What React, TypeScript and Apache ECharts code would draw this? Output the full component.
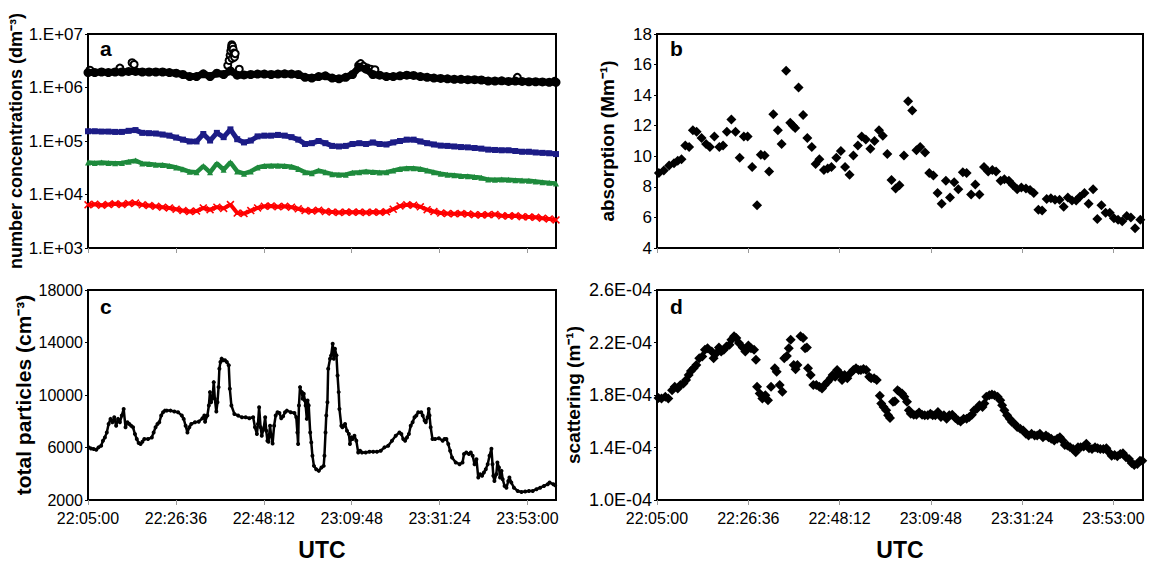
import { useEffect, useRef } from 'react';
import * as echarts from 'echarts';

const FONT = '"Liberation Sans", Arial, Helvetica, sans-serif';

// x axis: seconds after 22:05:00, axis ends at 24:00:00
const T_MAX = 6900;
const T_INTERVAL = 1296; // 21:36
const X_TICKS = [0, 1296, 2592, 3888, 5184, 6480];

// ---------- panel a (number concentrations, dm^-3), sampled every 100 s ----------
const A_STEP = 100;
const A_TOTAL = [
  1.9e6, 1.9e6, 1.95e6, 1.9e6, 1.95e6, 1.95e6, 2.0e6, 2.0e6, 1.95e6, 1.95e6,
  1.95e6, 1.95e6, 1.9e6, 1.85e6, 1.75e6, 1.6e6, 1.6e6, 1.8e6, 1.6e6, 1.85e6,
  1.75e6, 2.05e6, 1.7e6, 1.72e6, 1.75e6, 1.78e6, 1.78e6, 1.75e6, 1.78e6, 1.8e6,
  1.78e6, 1.75e6, 1.55e6, 1.5e6, 1.6e6, 1.65e6, 1.5e6, 1.45e6, 1.55e6, 1.75e6,
  2.4e6, 2.2e6, 1.75e6, 1.7e6, 1.6e6, 1.6e6, 1.65e6, 1.7e6, 1.68e6, 1.6e6,
  1.55e6, 1.5e6, 1.48e6, 1.45e6, 1.42e6, 1.42e6, 1.4e6, 1.4e6, 1.38e6, 1.32e6,
  1.32e6, 1.33e6, 1.3e6, 1.32e6, 1.3e6, 1.28e6, 1.28e6, 1.27e6, 1.25e6, 1.25e6,
];
const A_TOTAL_OUT_T = [28, 470, 650, 680, 2060, 2080, 2095, 2105, 2115, 2120, 2125, 2130, 2140, 2150, 2160, 2170, 2230, 3990, 4020, 4060, 4120, 4170, 4230, 6330, 6880];
const A_TOTAL_OUT_V = [2.1e6, 2.3e6, 2.9e6, 2.7e6, 2.6e6, 3.2e6, 4.0e6, 4.8e6, 5.6e6, 6.3e6, 3.5e6, 5.9e6, 5.2e6, 4.4e6, 3.7e6, 4.3e6, 2.2e6, 2.6e6, 2.8e6, 2.5e6, 2.3e6, 2.2e6, 2.15e6, 1.55e6, 1.3e6];
const A_BLUE = [
  1.52e5, 1.52e5, 1.5e5, 1.5e5, 1.48e5, 1.48e5, 1.55e5, 1.6e5, 1.42e5, 1.4e5,
  1.38e5, 1.32e5, 1.26e5, 1.16e5, 1.06e5, 9.8e4, 9.8e4, 1.35e5, 1.02e5, 1.42e5,
  1.18e5, 1.65e5, 1.08e5, 9.4e4, 1.02e5, 1.22e5, 1.26e5, 1.26e5, 1.3e5, 1.26e5,
  1.18e5, 1.06e5, 8.8e4, 9.1e4, 1.0e5, 9.1e4, 8.1e4, 7.9e4, 8.1e4, 8.8e4,
  9.1e4, 8.8e4, 9.4e4, 8.8e4, 8.6e4, 9.4e4, 1.0e5, 1.06e5, 1.06e5, 9.8e4,
  9.1e4, 8.6e4, 8.2e4, 8.1e4, 7.9e4, 7.7e4, 7.6e4, 7.4e4, 7.2e4, 6.9e4,
  6.8e4, 6.7e4, 6.7e4, 6.5e4, 6.3e4, 6.3e4, 6.1e4, 6.0e4, 5.9e4, 5.7e4,
];
const A_GREEN = [
  3.95e4, 3.9e4, 3.95e4, 3.9e4, 3.85e4, 3.9e4, 4.1e4, 4.3e4, 3.8e4, 3.7e4,
  3.6e4, 3.55e4, 3.4e4, 3.2e4, 2.95e4, 2.65e4, 2.6e4, 3.4e4, 2.6e4, 3.8e4,
  2.9e4, 4.0e4, 2.7e4, 2.45e4, 2.7e4, 3.2e4, 3.4e4, 3.45e4, 3.45e4, 3.4e4,
  3.3e4, 3.0e4, 2.6e4, 2.5e4, 2.8e4, 2.6e4, 2.4e4, 2.35e4, 2.35e4, 2.55e4,
  2.6e4, 2.68e4, 2.62e4, 2.58e4, 2.6e4, 2.8e4, 3.0e4, 3.1e4, 3.1e4, 3.0e4,
  2.8e4, 2.6e4, 2.45e4, 2.35e4, 2.3e4, 2.22e4, 2.2e4, 2.12e4, 2.05e4, 1.9e4,
  1.88e4, 1.9e4, 1.88e4, 1.85e4, 1.82e4, 1.8e4, 1.75e4, 1.7e4, 1.65e4, 1.6e4,
];
const A_RED = [
  6.4e3, 6.6e3, 6.3e3, 6.5e3, 6.7e3, 6.5e3, 6.8e3, 6.9e3, 6.4e3, 6.2e3,
  6.0e3, 5.8e3, 5.6e3, 5.3e3, 5.0e3, 4.8e3, 4.9e3, 5.6e3, 5.2e3, 5.8e3,
  5.5e3, 6.5e3, 4.5e3, 4.4e3, 5.0e3, 5.6e3, 6.0e3, 6.1e3, 5.9e3, 6.0e3,
  5.8e3, 5.4e3, 5.0e3, 4.9e3, 5.1e3, 4.8e3, 4.7e3, 4.6e3, 4.7e3, 4.65e3,
  4.7e3, 4.6e3, 4.7e3, 4.65e3, 4.75e3, 5.3e3, 6.1e3, 6.4e3, 6.3e3, 5.9e3,
  5.2e3, 4.8e3, 4.5e3, 4.4e3, 4.35e3, 4.4e3, 4.3e3, 4.2e3, 4.15e3, 4.2e3,
  4.25e3, 4.0e3, 3.95e3, 4.0e3, 3.85e3, 3.8e3, 3.75e3, 3.6e3, 3.5e3, 3.35e3,
];

// ---------- panel b (absorption, Mm^-1) ----------
const B_T = [
  27, 97, 172, 241, 295, 348, 402, 456, 509, 563, 633, 697, 751, 815, 885, 938, 992, 1056, 1115, 1174,
  1233, 1287, 1351, 1421, 1474, 1528, 1592, 1651, 1716, 1769, 1833, 1892, 1930, 1962, 2010, 2075, 2134, 2198, 2252, 2305,
  2370, 2423, 2477, 2546, 2611, 2670, 2734, 2788, 2852, 2906, 2965, 3029, 3088, 3152, 3206, 3270, 3329, 3388, 3442, 3506,
  3565, 3624, 3683, 3737, 3806, 3865, 3924, 3983, 4042, 4101, 4160, 4219, 4278, 4342, 4396, 4460, 4519, 4578, 4643, 4702,
  4761, 4814, 4879, 4932, 4996, 5055, 5114, 5173, 5238, 5297, 5350, 5415, 5468, 5533, 5592, 5651, 5715, 5774, 5833, 5892,
  5951, 6004, 6069, 6128, 6192, 6251, 6310, 6369, 6428, 6487, 6546, 6605, 6669, 6728, 6787, 6862,
];
const B_V = [
  8.9, 9.07, 9.4, 9.55, 9.7, 9.8, 10.7, 10.6, 11.7, 11.6, 11.2, 10.8, 10.6, 11.3, 10.6, 10.7, 11.6, 12.4, 11.6, 9.9,
  11.3, 11.3, 9.3, 6.8, 10.1, 10.05, 9.0, 12.75, 11.7, 10.8, 15.6, 12.2, 12.0, 11.85, 14.5, 12.7, 11.2, 10.6, 9.5, 9.8,
  9.1, 9.2, 9.3, 9.9, 10.35, 9.3, 8.8, 10.05, 10.7, 11.3, 11.1, 10.5, 11.0, 11.7, 11.35, 10.15, 8.45, 7.9, 8.1, 10.05,
  13.6, 13.0, 10.4, 10.6, 10.25, 8.9, 8.75, 7.6, 6.9, 8.4, 7.3, 8.3, 7.85, 8.95, 8.9, 7.5, 8.15, 7.5, 9.3, 9.0,
  9.1, 9.0, 8.4, 8.5, 8.4, 8.1, 7.85, 7.95, 7.9, 7.8, 7.6, 6.5, 6.45, 7.2, 7.25, 7.15, 7.15, 6.7, 7.3, 7.1,
  7.1, 7.35, 7.6, 6.9, 7.85, 5.9, 6.8, 6.3, 6.3, 5.95, 5.85, 5.75, 6.1, 6.0, 5.3, 5.85,
];

// ---------- panel c (total particles, cm^-3) ----------
const C_T = [
  11, 44, 83, 122, 155, 194, 221, 249, 277, 304, 332, 360, 387, 415, 443, 470, 498, 526, 553, 581,
  609, 636, 664, 692, 719, 747, 775, 802, 830, 885, 941, 968, 996, 1024, 1051, 1079, 1107, 1134, 1162, 1217,
  1273, 1328, 1383, 1411, 1439, 1466, 1494, 1522, 1577, 1632, 1688, 1715, 1726, 1760, 1782, 1798, 1815, 1837, 1854, 1870,
  1892, 1909, 1925, 1937, 1953, 1970, 1992, 2020, 2047, 2075, 2091, 2114, 2158, 2213, 2269, 2324, 2379, 2435, 2462, 2490,
  2506, 2523, 2545, 2562, 2589, 2612, 2628, 2645, 2661, 2684, 2700, 2722, 2744, 2767, 2794, 2822, 2849, 2877, 2905, 2932,
  2988, 3043, 3071, 3087, 3098, 3110, 3126, 3143, 3154, 3165, 3181, 3198, 3209, 3226, 3237, 3254, 3276, 3292, 3309, 3331,
  3364, 3403, 3442, 3475, 3486, 3502, 3513, 3530, 3541, 3569, 3585, 3608, 3624, 3641, 3663, 3679, 3696, 3707, 3735, 3751,
  3774, 3790, 3818, 3846, 3862, 3884, 3901, 3928, 3956, 3984, 4011, 4039, 4094, 4150, 4205, 4260, 4316, 4371, 4426, 4482,
  4537, 4592, 4620, 4648, 4675, 4703, 4731, 4758, 4786, 4814, 4841, 4869, 4913, 4935, 4963, 4980, 5007, 5024, 5035, 5052,
  5079, 5118, 5173, 5229, 5256, 5284, 5312, 5339, 5367, 5422, 5478, 5522, 5544, 5577, 5616, 5644, 5671, 5699, 5727, 5754,
  5782, 5810, 5837, 5865, 5893, 5920, 5948, 5964, 5976, 5992, 6020, 6036, 6059, 6075, 6097, 6114, 6142, 6169, 6197, 6213,
  6241, 6280, 6335, 6391, 6446, 6501, 6557, 6612, 6667, 6723, 6778, 6806, 6861, 6888,
];
const C_V = [
  6010, 5930, 5880, 5830, 6010, 6130, 6520, 6770, 7150, 7790, 8180, 7920, 8300, 7660, 8180, 7920, 8430, 8940, 7540, 7920,
  7790, 7660, 7540, 7030, 6640, 6340, 6260, 6440, 6640, 6640, 6770, 7150, 7540, 7790, 7920, 8430, 8690, 8810, 8810, 8810,
  8740, 8690, 8430, 8180, 7660, 7150, 7540, 7790, 7920, 7970, 8230, 8430, 7970, 8430, 9200, 10220, 9450, 9830, 10980, 9710,
  8740, 9450, 10600, 12000, 12510, 12770, 12640, 12640, 12510, 12260, 10470, 9200, 8560, 8430, 8300, 8300, 8230, 8300, 7540, 7030,
  7790, 9070, 7540, 6900, 7410, 8300, 7280, 6520, 6440, 7660, 6900, 6310, 7660, 8430, 8690, 8630, 8230, 8380, 8690, 8810,
  8690, 8630, 8300, 7150, 6260, 9200, 10600, 10220, 10220, 9710, 10090, 9580, 9200, 8180, 9580, 9200, 7150, 6390, 5370, 4600,
  4350, 4220, 4470, 4600, 5370, 7150, 8430, 9450, 12000, 12770, 13020, 13900, 12770, 13530, 13020, 11490, 10220, 8940, 7660, 7540,
  7660, 7790, 7280, 7030, 6260, 6770, 6640, 6900, 6520, 5620, 5750, 5620, 5620, 5670, 5670, 5670, 5750, 6010, 6130, 6520,
  6900, 7150, 7030, 6640, 6520, 6770, 7030, 7660, 7920, 8300, 8430, 8690, 8690, 8430, 8050, 7920, 8300, 8940, 8430, 7540,
  6640, 6640, 6700, 6520, 6640, 6640, 6260, 5750, 5240, 4860, 4730, 4860, 5500, 5620, 5500, 5620, 5370, 4730, 5110, 3710,
  3960, 3840, 4090, 4350, 4730, 5370, 5900, 4730, 3840, 3450, 3960, 4860, 4470, 3710, 4220, 3580, 3070, 2940, 3450, 3710,
  3330, 2940, 2690, 2610, 2640, 2690, 2690, 2820, 2940, 3070, 3200, 3330, 3200, 3120,
];
const C_Y_TICKS = [2000, 6000, 10000, 14000, 18000];

// ---------- panel d (scattering, in units of 1E-04 m^-1) ----------
const D_T = [
  21, 64, 118, 161, 214, 252, 295, 332, 375, 413, 450, 482, 520, 558, 600, 643, 681, 718, 777, 804,
  842, 879, 911, 949, 986, 1029, 1056, 1094, 1126, 1163, 1217, 1254, 1297, 1335, 1378, 1405, 1421, 1458, 1496, 1539,
  1576, 1619, 1673, 1699, 1742, 1780, 1807, 1844, 1871, 1898, 1941, 1967, 1994, 2037, 2075, 2102, 2128, 2144, 2182, 2219,
  2262, 2305, 2343, 2380, 2423, 2466, 2493, 2530, 2557, 2595, 2627, 2664, 2702, 2745, 2788, 2825, 2863, 2895, 2932, 2970,
  3013, 3040, 3083, 3120, 3163, 3184, 3217, 3254, 3281, 3308, 3351, 3377, 3415, 3442, 3479, 3511, 3549, 3576, 3603, 3645,
  3683, 3721, 3763, 3801, 3844, 3881, 3914, 3951, 3989, 4031, 4074, 4112, 4149, 4192, 4235, 4273, 4310, 4353, 4396, 4434,
  4471, 4503, 4541, 4578, 4621, 4648, 4675, 4718, 4755, 4793, 4836, 4873, 4900, 4932, 4970, 5007, 5039, 5077, 5114, 5157,
  5200, 5238, 5275, 5318, 5361, 5398, 5436, 5479, 5522, 5559, 5597, 5640, 5683, 5720, 5758, 5790, 5827, 5865, 5908, 5945,
  5977, 6015, 6058, 6095, 6133, 6176, 6219, 6256, 6294, 6337, 6380, 6417, 6455, 6497, 6535, 6578, 6615, 6658, 6701, 6739,
  6776, 6819, 6857, 6889,
];
const D_V = [
  1.778, 1.773, 1.786, 1.773, 1.837, 1.863, 1.85, 1.876, 1.888, 1.914, 1.952, 1.983, 2.004, 2.029, 2.08, 2.093, 2.144, 2.157, 2.132, 2.08,
  2.119, 2.162, 2.132, 2.144, 2.17, 2.183, 2.221, 2.247, 2.234, 2.196, 2.162, 2.132, 2.178, 2.157, 2.144, 2.068, 1.863, 1.812, 1.773, 1.799,
  1.76, 1.863, 2.004, 1.978, 1.876, 1.824, 2.08, 2.098, 2.157, 2.221, 2.029, 1.996, 2.029, 2.247, 2.234, 2.157, 2.162, 2.004, 1.952, 1.876,
  1.876, 1.863, 1.85, 1.876, 1.901, 1.927, 1.952, 1.94, 1.991, 1.965, 1.914, 1.952, 1.927, 1.965, 1.991, 2.004, 1.991, 1.991, 1.998, 1.991,
  1.94, 1.927, 1.927, 1.914, 1.794, 1.735, 1.709, 1.684, 1.645, 1.625, 1.748, 1.753, 1.837, 1.824, 1.812, 1.786, 1.748, 1.684, 1.658, 1.65,
  1.65, 1.666, 1.65, 1.645, 1.645, 1.658, 1.645, 1.645, 1.671, 1.632, 1.645, 1.62, 1.645, 1.65, 1.625, 1.607, 1.599, 1.62, 1.62, 1.632,
  1.65, 1.684, 1.696, 1.722, 1.709, 1.735, 1.786, 1.799, 1.804, 1.799, 1.786, 1.76, 1.722, 1.684, 1.645, 1.62, 1.594, 1.581, 1.556, 1.543,
  1.53, 1.504, 1.492, 1.504, 1.492, 1.492, 1.504, 1.479, 1.492, 1.479, 1.466, 1.453, 1.466, 1.479, 1.453, 1.42, 1.415, 1.402, 1.389, 1.364,
  1.402, 1.402, 1.407, 1.428, 1.394, 1.389, 1.402, 1.394, 1.389, 1.389, 1.394, 1.364, 1.338, 1.343, 1.333, 1.351, 1.356, 1.325, 1.312, 1.282,
  1.266, 1.274, 1.3, 1.3,
];
const D_Y_TICKS = [1.0, 1.4, 1.8, 2.2, 2.6];

const START_S = 22 * 3600 + 5 * 60;
function fmtTime(v: number): string {
  const s = Math.round(START_S + v) % 86400;
  const h = Math.floor(s / 3600);
  const m = Math.floor((s % 3600) / 60);
  const sec = s % 60;
  return [h, m, sec].map((n) => String(n).padStart(2, '0')).join(':');
}

const X_CROSS = 'path://M0,1.4L1.4,0L5,3.6L8.6,0L10,1.4L6.4,5L10,8.6L8.6,10L5,6.4L1.4,10L0,8.6L3.6,5Z';

const GRIDS = [
  { left: 88, top: 34, width: 468, height: 214 },
  { left: 657, top: 34, width: 486, height: 214 },
  { left: 88, top: 290, width: 468, height: 210 },
  { left: 657, top: 290, width: 486, height: 210 },
];

function xAxis(gridIndex: number, labels: boolean) {
  return {
    type: 'value',
    gridIndex,
    min: 0,
    max: T_MAX,
    interval: T_INTERVAL,
    axisLine: { show: true, onZero: false, lineStyle: { color: '#000', width: 2 } },
    axisTick: { show: true, inside: false, length: 5, customValues: X_TICKS, lineStyle: { color: '#999', width: 1 } },
    axisLabel: {
      show: labels,
      customValues: X_TICKS,
      formatter: (v: number) => fmtTime(v),
      color: '#000',
      fontSize: 16,
      fontFamily: FONT,
      margin: 10,
      showMaxLabel: true,
    },
    splitLine: { show: false },
    name: labels ? 'UTC' : '',
    nameLocation: 'middle',
    nameGap: 38,
    nameTextStyle: { color: '#000', fontSize: 23, fontWeight: 'bold', fontFamily: FONT },
  };
}

const yCommon = {
  axisLine: { show: true, onZero: false, lineStyle: { color: '#000', width: 2 } },
  axisTick: { show: true, inside: false, length: 3, lineStyle: { color: '#000', width: 1 } },
  splitLine: { show: false },
  nameLocation: 'middle',
  nameRotate: 90,
};
const yLabel = (size: number) => ({ color: '#000', fontSize: size, fontFamily: FONT, margin: 5 });
const yName = (size: number) => ({ color: '#000', fontSize: size, fontWeight: 'bold', fontFamily: FONT });

const option = {
  animation: false,
  backgroundColor: '#fff',
  grid: GRIDS.map((g) => ({ ...g, show: true, borderColor: '#000', borderWidth: 2, backgroundColor: 'transparent' })),
  xAxis: [xAxis(0, false), xAxis(1, false), xAxis(2, true), xAxis(3, true)],
  yAxis: [
    {
      ...yCommon,
      type: 'log',
      gridIndex: 0,
      min: 1e3,
      max: 1e7,
      logBase: 10,
      axisLabel: { ...yLabel(17), formatter: (v: number) => '1.E+0' + Math.round(Math.log10(v)) },
      name: 'number concentrations (dm⁻³)',
      nameGap: 58,
      nameTextStyle: yName(18),
    },
    {
      ...yCommon,
      type: 'value',
      gridIndex: 1,
      min: 4,
      max: 18,
      interval: 2,
      axisLabel: { ...yLabel(17), formatter: (v: number) => String(v) },
      name: 'absorption (Mm⁻¹)',
      nameGap: 40,
      nameTextStyle: yName(19),
    },
    {
      ...yCommon,
      type: 'value',
      gridIndex: 2,
      min: 2000,
      max: 18000,
      interval: 2000,
      axisTick: { ...yCommon.axisTick, customValues: C_Y_TICKS },
      axisLabel: { ...yLabel(16), customValues: C_Y_TICKS, formatter: (v: number) => String(Math.round(v)) },
      name: 'total particles (cm⁻³)',
      nameGap: 54,
      nameTextStyle: yName(21),
    },
    {
      ...yCommon,
      type: 'value',
      gridIndex: 3,
      min: 1.0,
      max: 2.6,
      interval: 0.2,
      axisTick: { ...yCommon.axisTick, customValues: D_Y_TICKS },
      axisLabel: { ...yLabel(18), customValues: D_Y_TICKS, formatter: (v: number) => v.toFixed(1) + 'E-04' },
      name: 'scattering (m⁻¹)',
      nameGap: 74,
      nameTextStyle: yName(19),
    },
  ],
  graphic: [
    { type: 'text', left: 100, top: 38, style: { text: 'a', font: `bold 21px ${FONT}`, fill: '#000' } },
    { type: 'text', left: 670, top: 38, style: { text: 'b', font: `bold 21px ${FONT}`, fill: '#000' } },
    { type: 'text', left: 100, top: 296, style: { text: 'c', font: `bold 21px ${FONT}`, fill: '#000' } },
    { type: 'text', left: 670, top: 296, style: { text: 'd', font: `bold 21px ${FONT}`, fill: '#000' } },
  ],
  series: [
    {
      name: 'red',
      type: 'line',
      xAxisIndex: 0,
      yAxisIndex: 0,
      data: A_RED.map((v, i) => [i * A_STEP, v]),
      symbol: X_CROSS,
      symbolSize: 8,
      showSymbol: true,
      lineStyle: { color: '#ff0000', width: 4 },
      itemStyle: { color: '#ff0000' },
    },
    {
      name: 'green',
      type: 'line',
      xAxisIndex: 0,
      yAxisIndex: 0,
      data: A_GREEN.map((v, i) => [i * A_STEP, v]),
      symbol: 'triangle',
      symbolSize: 6,
      showSymbol: true,
      lineStyle: { color: '#1e8a3c', width: 4.5 },
      itemStyle: { color: '#1e8a3c' },
    },
    {
      name: 'blue',
      type: 'line',
      xAxisIndex: 0,
      yAxisIndex: 0,
      data: A_BLUE.map((v, i) => [i * A_STEP, v]),
      symbol: 'rect',
      symbolSize: 6,
      showSymbol: true,
      lineStyle: { color: '#1c1c86', width: 5 },
      itemStyle: { color: '#1c1c86' },
    },
    {
      name: 'total',
      type: 'line',
      xAxisIndex: 0,
      yAxisIndex: 0,
      data: A_TOTAL.map((v, i) => [i * A_STEP, v]),
      symbol: 'circle',
      symbolSize: 9,
      showSymbol: true,
      lineStyle: { color: '#000', width: 7 },
      itemStyle: { color: '#000' },
    },
    {
      name: 'total outliers',
      type: 'scatter',
      xAxisIndex: 0,
      yAxisIndex: 0,
      data: A_TOTAL_OUT_T.map((t, i) => [t, A_TOTAL_OUT_V[i]]),
      symbol: 'emptyCircle',
      symbolSize: 7,
      itemStyle: { color: '#000', borderColor: '#000', borderWidth: 1, opacity: 1 },
    },
    {
      name: 'absorption',
      type: 'scatter',
      xAxisIndex: 1,
      yAxisIndex: 1,
      data: B_T.map((t, i) => [t, B_V[i]]),
      symbol: 'diamond',
      symbolSize: 10,
      itemStyle: { color: '#000', opacity: 1 },
    },
    {
      name: 'total particles',
      type: 'line',
      xAxisIndex: 2,
      yAxisIndex: 2,
      data: C_T.map((t, i) => [t, C_V[i]]),
      symbol: 'circle',
      symbolSize: 4,
      showSymbol: true,
      lineStyle: { color: '#000', width: 2.5 },
      itemStyle: { color: '#000' },
    },
    {
      name: 'scattering',
      type: 'scatter',
      xAxisIndex: 3,
      yAxisIndex: 3,
      data: D_T.map((t, i) => [t, D_V[i]]),
      symbol: 'diamond',
      symbolSize: 10,
      itemStyle: { color: '#000', opacity: 1 },
    },
  ],
};

export default function App() {
  const ref = useRef<HTMLDivElement>(null);
  useEffect(() => {
    document.body.style.margin = '0';
    const chart = echarts.init(ref.current as HTMLDivElement, null, { renderer: 'svg' });
    chart.setOption(option as any);
    return () => chart.dispose();
  }, []);
  return <div ref={ref} style={{ width: 1161, height: 568, background: '#fff' }} />;
}
